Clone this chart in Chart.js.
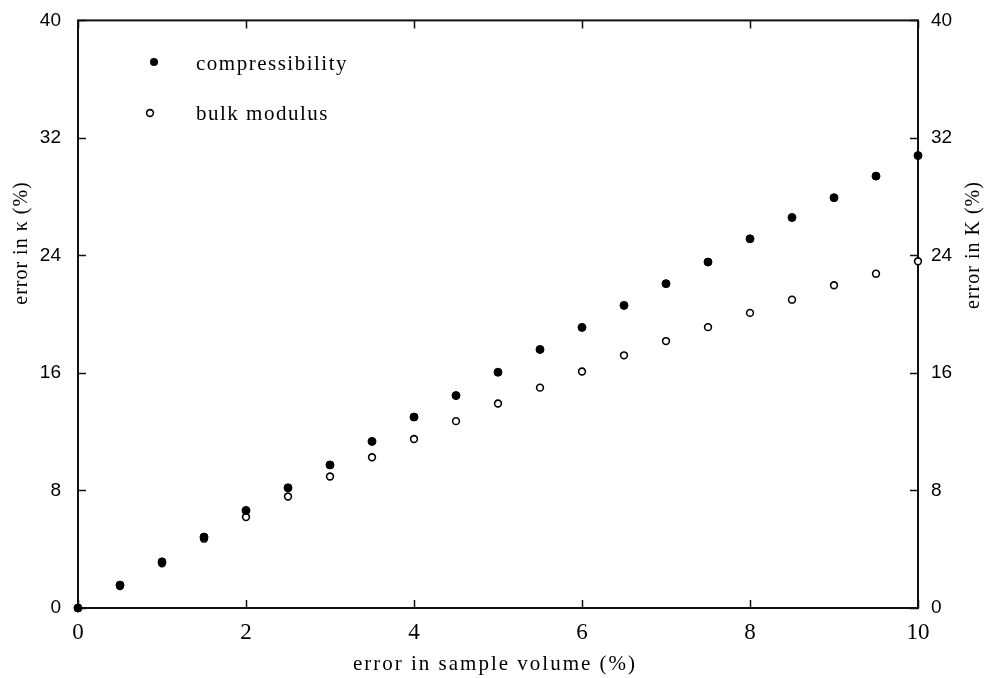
<!DOCTYPE html>
<html>
<head>
<meta charset="utf-8">
<script src="https://cdn.jsdelivr.net/npm/chart.js@4.4.1/dist/chart.umd.min.js"></script>
<style>
html,body{margin:0;padding:0;background:#fff;}
#wrap{width:986px;height:678px;}
</style>
</head>
<body>
<div id="wrap"><canvas id="c" width="986" height="678"></canvas></div>
<script>
// ---- data ----
const volumeError = [0,0.5,1,1.5,2,2.5,3,3.5,4,4.5,5,5.5,6,6.5,7,7.5,8,8.5,9,9.5,10];
const compressibilityError = [0,1.56,3.14,4.83,6.64,8.18,9.74,11.34,13.0,14.46,16.05,17.6,19.1,20.6,22.08,23.55,25.13,26.58,27.93,29.4,30.8];
const bulkModulusError = [0,1.5,3.05,4.72,6.19,7.59,8.95,10.26,11.5,12.72,13.92,15.0,16.1,17.2,18.17,19.12,20.09,20.99,21.97,22.76,23.6];
const xTickValues = [0,2,4,6,8,10];
const yTickValues = [0,8,16,24,32,40];
const seriesNames = ["compressibility","bulk modulus"];
const xTitle = "error in sample volume (%)";
const yLeftTitle = "error in κ (%)";
const yRightTitle = "error in K (%)";

const toPts = (xs, ys) => xs.map((x, i) => ({x: x, y: ys[i]}));

const framePlugin = {
  id: 'frame',
  beforeDatasetsDraw(chart) {
    const {ctx, chartArea: a, scales} = chart;
    ctx.save();
    ctx.strokeStyle = '#111';
    ctx.lineWidth = 2;
    ctx.strokeRect(a.left, a.top, a.right - a.left, a.bottom - a.top);
    ctx.lineWidth = 1.5;
    const L = 8;
    ctx.beginPath();
    xTickValues.forEach(v => {
      const px = Math.round(scales.x.getPixelForValue(v)) + 0.5;
      ctx.moveTo(px, a.bottom); ctx.lineTo(px, a.bottom - L);
      ctx.moveTo(px, a.top); ctx.lineTo(px, a.top + L);
    });
    yTickValues.forEach(v => {
      const py = Math.round(scales.y.getPixelForValue(v)) + 0.5;
      ctx.moveTo(a.left, py); ctx.lineTo(a.left + L, py);
      ctx.moveTo(a.right, py); ctx.lineTo(a.right - L, py);
    });
    ctx.stroke();
    ctx.restore();
  },
  afterDraw(chart) {
    const {ctx} = chart;
    ctx.save();
    ctx.fillStyle = '#000';
    ctx.textBaseline = 'middle';
    // legend
    ctx.font = '21px "Liberation Serif", "Times New Roman", serif';
    ctx.letterSpacing = '1.5px';
    ctx.textAlign = 'left';
    ctx.fillText(seriesNames[0], 196, 64);
    ctx.fillText(seriesNames[1], 196, 114);
    ctx.beginPath(); ctx.arc(154, 62, 4, 0, Math.PI*2); ctx.fillStyle = '#000'; ctx.fill();
    ctx.beginPath(); ctx.arc(150, 113, 3.4, 0, Math.PI*2); ctx.fillStyle = '#fff'; ctx.fill();
    ctx.lineWidth = 1.6; ctx.strokeStyle = '#000'; ctx.stroke();
    ctx.fillStyle = '#000';
    // x title
    ctx.font = '21px "Liberation Serif", "Times New Roman", serif';
    ctx.letterSpacing = '2px';
    ctx.textAlign = 'center';
    ctx.fillText(xTitle, 495, 664);
    // left / right titles
    ctx.font = '20px "Liberation Serif", "Times New Roman", serif';
    ctx.letterSpacing = '1px';
    ctx.save();
    ctx.translate(22, 243); ctx.rotate(-Math.PI/2);
    ctx.fillText(yLeftTitle, 0, 0);
    ctx.restore();
    ctx.save();
    ctx.translate(974, 245); ctx.rotate(-Math.PI/2);
    ctx.fillText(yRightTitle, 0, 0);
    ctx.restore();
    ctx.letterSpacing = '0px';
    ctx.restore();
  }
};

new Chart(document.getElementById('c'), {
  type: 'scatter',
  data: {
    datasets: [
      {
        label: seriesNames[0],
        data: toPts(volumeError, compressibilityError),
        yAxisID: 'y',
        pointRadius: 4,
        pointBackgroundColor: '#000',
        pointBorderColor: '#000',
        pointBorderWidth: 1,
        pointStyle: 'circle',
        clip: false
      },
      {
        label: seriesNames[1],
        data: toPts(volumeError, bulkModulusError),
        yAxisID: 'y2',
        pointRadius: 3.4,
        pointBackgroundColor: '#fff',
        pointBorderColor: '#000',
        pointBorderWidth: 1.6,
        pointStyle: 'circle',
        clip: false
      }
    ]
  },
  options: {
    responsive: false,
    animation: false,
    devicePixelRatio: 1,
    layout: {padding: {top: 18, left: 0, right: 0, bottom: 0}},
    plugins: {legend: {display: false}, tooltip: {enabled: false}},
    scales: {
      x: {
        type: 'linear', min: 0, max: 10,
        afterBuildTicks: s => { s.ticks = xTickValues.map(v => ({value: v})); },
        ticks: {color: '#000', padding: 3, maxRotation: 0,
          font: {family: '"Liberation Serif", "Times New Roman", serif', size: 23}},
        grid: {display: false},
        border: {display: false},
        afterFit: s => { s.height = 70; }
      },
      y: {
        type: 'linear', position: 'left', min: 0, max: 40,
        afterBuildTicks: s => { s.ticks = yTickValues.map(v => ({value: v})); },
        ticks: {color: '#000', padding: 9,
          font: {family: '"Liberation Sans", Arial, sans-serif', size: 19}},
        grid: {display: false},
        border: {display: false},
        afterFit: s => { s.width = 78; }
      },
      y2: {
        type: 'linear', position: 'right', min: 0, max: 40,
        afterBuildTicks: s => { s.ticks = yTickValues.map(v => ({value: v})); },
        ticks: {color: '#000', padding: 5,
          font: {family: '"Liberation Sans", Arial, sans-serif', size: 19}},
        grid: {display: false},
        border: {display: false},
        afterFit: s => { s.width = 68; }
      }
    }
  },
  plugins: [framePlugin]
});
</script>
</body>
</html>
